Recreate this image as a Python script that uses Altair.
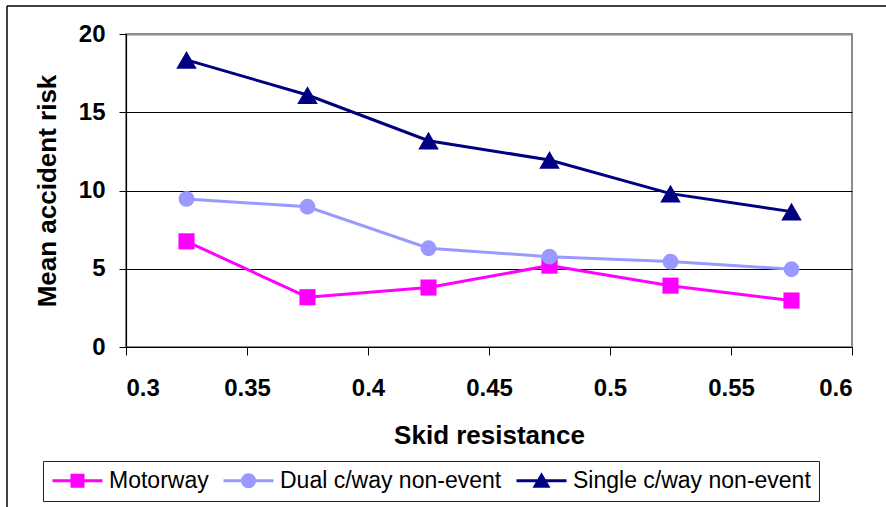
import altair as alt
import pandas as pd

# ---- data ----
skid = [0.325, 0.375, 0.425, 0.475, 0.525, 0.575]
motorway = [6.75, 3.18, 3.80, 5.20, 3.92, 2.97]
dual = [9.46, 8.96, 6.31, 5.77, 5.46, 4.97]
single = [18.35, 16.10, 13.18, 11.95, 9.80, 8.65]

series = ["Motorway", "Dual c/way non-event", "Single c/way non-event"]
colors = ["#FF00FF", "#9999FF", "#000080"]
shapes = ["square", "circle", "triangle-up"]
marker_sizes = [260, 250, 420]
# legend glyphs: a line segment with the series marker in its middle
legend_shapes = [
    "M-2.5,-0.14H2.5V0.14H-2.5Z M-0.7,-0.7H0.7V0.7H-0.7Z",
    "M-2.5,-0.14H2.5V0.14H-2.5Z M-0.75,0A0.75,0.75,0,1,1,0.75,0A0.75,0.75,0,1,1,-0.75,0Z",
    "M-2.5,-0.14H2.5V0.14H-2.5Z M0,-0.85L0.9,0.7H-0.9Z",
]
x_ticks = [0.3, 0.35, 0.4, 0.45, 0.5, 0.55, 0.6]
y_ticks = [0, 5, 10, 15, 20]

rows = []
for name, vals in zip(series, [motorway, dual, single]):
    for xv, yv in zip(skid, vals):
        rows.append({"Series": name, "Skid": xv, "Risk": yv})
df = pd.DataFrame(rows)

FONT = "Liberation Sans"
W, H = 726, 313
PAD_L, PAD_T = 126, 34

x_enc = alt.X(
    "Skid:Q",
    scale=alt.Scale(domain=[0.3, 0.6], nice=False, zero=False),
    axis=alt.Axis(
        values=x_ticks, format=".2~f", grid=False,
        domainColor="black", domainWidth=1.2, tickColor="black", tickSize=8,
        labelFont=FONT, labelFontWeight="bold", labelFontSize=24,
        labelColor="black", labelPadding=21,
        title="Skid resistance", titleFont=FONT, titleFontWeight="bold",
        titleFontSize=26, titleColor="black", titleY=96,
        titleBaseline="alphabetic",
    ),
)
y_enc = alt.Y(
    "Risk:Q",
    scale=alt.Scale(domain=[0, 20], nice=False),
    axis=alt.Axis(
        values=y_ticks, grid=True,
        gridColor={"condition": {"test": "datum.value === 20", "value": "#8c8c8c"}, "value": "black"},
        gridWidth={"condition": {"test": "datum.value === 20", "value": 2}, "value": 1},
        domainColor="black", domainWidth=1.2, tickColor="black", tickSize=7,
        labelFont=FONT, labelFontWeight="bold", labelFontSize=24,
        labelColor="black", labelPadding=14,
        title="Mean accident risk", titleFont=FONT, titleFontWeight="bold",
        titleFontSize=26, titleColor="black", titleX=-71, titleAngle=270,
        titleBaseline="alphabetic",
    ),
)

base = alt.Chart(df)

lines = base.mark_line(strokeWidth=3).encode(
    x=x_enc, y=y_enc,
    color=alt.Color("Series:N", scale=alt.Scale(domain=series, range=colors), legend=None),
)

point_layers = []
for name, col, shp, sz in zip(series, colors, shapes, marker_sizes):
    point_layers.append(
        base.transform_filter(alt.datum.Series == name)
        .mark_point(filled=True, opacity=1, shape=shp, size=sz, color=col)
        .encode(x="Skid:Q", y="Risk:Q")
    )

leg = alt.Legend(
    orient="none", legendX=-83, legendY=427, direction="horizontal", title=None,
    strokeColor="#222", padding=8, labelFont=FONT, labelFontSize=23,
    labelColor="black", labelOffset=20, columnPadding=13, symbolSize=400,
    symbolOffset=15, labelLimit=0,
    symbolStrokeWidth=0, symbolOpacity=1, fillColor="white",
)
legend_layer = base.transform_filter("false").mark_point(filled=True, opacity=1, size=400).encode(
    color=alt.Color("Series:N", scale=alt.Scale(domain=series, range=colors), legend=leg),
    shape=alt.Shape("Series:N", scale=alt.Scale(domain=series, range=legend_shapes), legend=leg),
)

frame_data = alt.Data(values=[{"k": 1}])
frame_left = alt.Chart(frame_data).mark_rule(color="black", strokeWidth=1.5).encode(
    x=alt.value(7 - PAD_L), y=alt.value(6 - PAD_T), y2=alt.value(507 - PAD_T)
)
frame_top = alt.Chart(frame_data).mark_rule(color="black", strokeWidth=1.5).encode(
    x=alt.value(7 - PAD_L), x2=alt.value(886 - PAD_L), y=alt.value(6 - PAD_T)
)

chart = alt.layer(frame_left, frame_top, lines, *point_layers, legend_layer).resolve_scale(
    color="independent", shape="independent"
).properties(
    width=W, height=H,
    autosize=alt.AutoSizeParams(type="none"),
    padding={"left": PAD_L, "top": PAD_T, "right": 886 - PAD_L - W, "bottom": 507 - PAD_T - H},
    background="white",
).configure_view(stroke="#8c8c8c", strokeWidth=2)

chart.save("out.html", embed_options={"renderer": "svg", "actions": False})
